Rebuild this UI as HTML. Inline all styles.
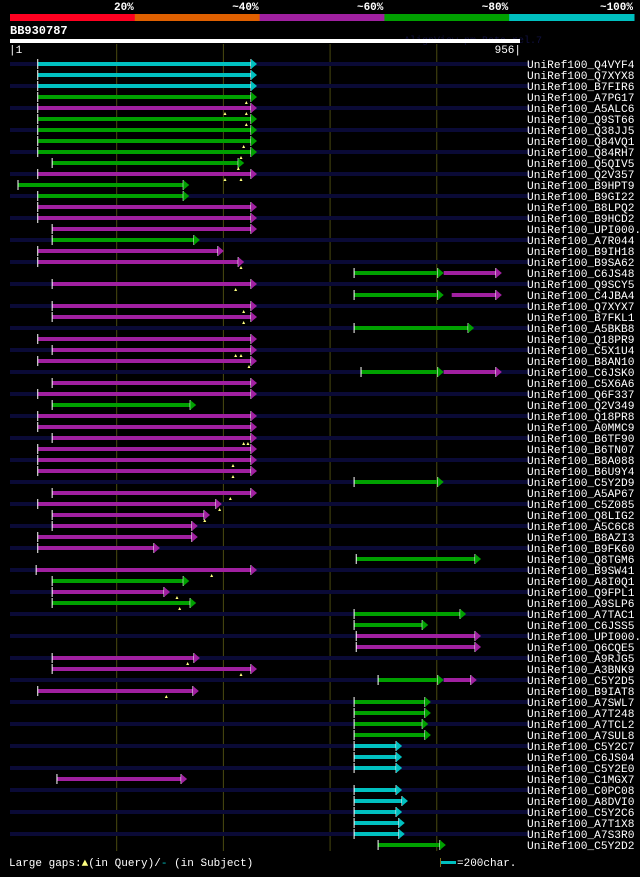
<!DOCTYPE html>
<html><head><meta charset="utf-8">
<style>
html,body{margin:0;padding:0;background:#000;}
body{width:640px;height:872px;overflow:hidden;}
svg text{font-family:"Liberation Mono","DejaVu Sans Mono",monospace;}
</style></head>
<body>
<svg id="chart" width="640" height="872" viewBox="0 0 640 872" xmlns="http://www.w3.org/2000/svg">
  <rect x="0" y="0" width="640" height="872" fill="#000"/>
  <g id="scalebar"></g>
  <text x="10" y="34" fill="#fff" font-size="12" font-weight="bold">BB930787</text>
  <text x="404" y="43" fill="#101040" font-size="10">AlignView.pm Beta rel.7</text>
  <rect x="10" y="39" width="510" height="4" fill="#fff"/>
  <text x="9" y="53" fill="#fff" font-size="11">|1</text>
  <text x="521" y="53" fill="#fff" font-size="11" text-anchor="end">956|</text>
  <g id="grid"></g>
  <g id="rows"></g>
  <text x="9" y="866" fill="#fff" font-size="11">Large gaps:<tspan fill="#ffff80">▲</tspan>(in Query)/<tspan fill="#00c0c0">-</tspan> (in Subject)</text>
  <rect x="441" y="861" width="15" height="3" fill="#00c0c0"/>
  <rect x="440" y="858" width="1" height="9" fill="#807020"/>
  <text x="457" y="866" fill="#fff" font-size="11">=200char.</text>
</svg>
<script>
const scaleLabels = ["20%","~40%","~60%","~80%","~100%"];
const scaleColors = ["#ff0020","#e06000","#a020a0","#00a000","#00c0c0"];
const gridTicks = [200,400,600,800];
const names = ["Q4VYF4","Q7XYX8","B7FIR6","A7PG17","A5ALC6","Q9ST66","Q38JJ5","Q84VQ1","Q84RH7","Q5QIV5","Q2V357","B9HPT9","B9GI22","B8LPQ2","B9HCD2","UPI000..","A7R044","B9IH18","B9SA62","C6JS48","Q9SCY5","C4JBA4","Q7XYX7","B7FKL1","A5BKB8","Q18PR9","C5X1U4","B8AN10","C6JSK0","C5X6A6","Q6F337","Q2V349","Q18PR8","A0MMC9","B6TF90","B6TN07","B8A088","B6U9Y4","C5Y2D9","A5AP67","C5Z085","Q8LIG2","A5C6C8","B8AZI3","B9FK60","Q8TGM6","B9SW41","A8I0Q1","Q9FPL1","A9SLP6","A7TAC1","C6JSS5","UPI000..","Q6CQE5","A9RJG5","A3BNK9","C5Y2D5","B9IAT8","A7SWL7","A7T248","A7TCL2","A7SUL8","C5Y2C7","C6JS04","C5Y2E0","C1MGX7","C0PC08","A8DVI0","C5Y2C6","A7T1X8","A7S3R0","C5Y2D2"];
const hitStart = [52,52,52,52,52,52,52,52,52,79,52,15,52,52,52,79,79,52,52,645,79,645,79,79,645,52,79,52,658,79,52,79,52,52,79,52,52,52,645,79,52,79,79,52,52,649,49,79,79,79,645,645,649,649,79,79,690,52,645,645,645,645,645,645,645,88,645,645,645,645,645,690];
const hitEnd = [463,463,463,463,463,463,463,463,463,439,463,336,336,463,463,463,356,401,439,813,463,813,463,463,870,463,463,463,813,463,463,349,463,463,463,463,463,463,813,463,397,375,352,352,281,883,463,336,300,349,855,784,883,883,356,463,813,354,789,789,784,789,735,735,735,332,735,746,735,740,740,817];
const hitClass = ["c","c","c","g","p","g","g","g","g","g","p","g","g","p","p","p","g","p","p","g","p","g","p","p","g","p","p","p","g","p","p","g","p","p","p","p","p","p","g","p","p","p","p","p","p","g","p","g","p","g","g","g","p","p","p","p","g","p","g","g","g","g","c","c","c","p","c","c","c","c","c","g"];
const extraRow = [19,21,28,56];
const extraStart = [813,828,813,813];
const extraEnd = [922,922,922,875];
const extraClass = ["p","p","p","p"];
const gapRow = [3,4,4,5,7,8,9,10,10,18,20,22,23,26,26,27,34,34,36,37,39,40,41,46,48,49,54,55,57];
const gapPos = [443,403,443,443,438,433,428,403,433,433,423,438,438,423,433,448,438,446,418,418,413,393,365,378,313,318,333,433,293];

const X0=10, X1=520, NMAX=956;
const xs = p => X0 + p/NMAX*(X1-X0);
const rowY = i => 64 + i*11;
const colorOf = {c:"#00c0c0", g:"#00a000", p:"#a020a0"};
const NS="http://www.w3.org/2000/svg";
function mk(tag, attrs, parent){const e=document.createElementNS(NS,tag);for(const k in attrs)e.setAttribute(k,attrs[k]);parent.appendChild(e);return e;}

const sb=document.getElementById('scalebar');
scaleColors.forEach((c,i)=>{
  const w=(634-10)/5;
  const r=mk('rect',{x:10+i*w,y:14,width:w+0.5,height:7,fill:c},sb);
  
  
  const t=mk('text',{x:10+(i+1)*w-1,y:10,fill:'#fff','font-size':'11','font-weight':'bold','text-anchor':'end'},sb);
  t.textContent=scaleLabels[i];
  
  
});

const grid=document.getElementById('grid');
gridTicks.forEach(v=>{
  const l=mk('line',{x1:xs(v),x2:xs(v),y1:44,y2:851,stroke:'#4a4a10','stroke-width':1},grid);
  
  
});

const rows=document.getElementById('rows');
function segment(g,s,e,cls,y,startTick){
  const col=colorOf[cls];
  const xe=xs(e)-6;
  mk('rect',{x:xs(s),y:y-2,width:Math.max(0,xe-xs(s)),height:4,fill:col},g);
  if(startTick) mk('rect',{x:xs(s)-0.5,y:y-5,width:1,height:10,fill:'#fff'},g);
  mk('rect',{x:xe-0.5,y:y-5,width:1,height:10,fill:'#fff'},g);
  mk('polygon',{points:`${xe},${y-5} ${xe+6},${y} ${xe},${y+5}`,fill:col},g);
}
names.forEach((n,i)=>{
  const y=rowY(i);
  const g=mk('g',{},rows);
  
  
  if(i%2===0) mk('rect',{x:10,y:y-2,width:520,height:4,fill:'#0a0a36'},g);
  segment(g,hitStart[i],hitEnd[i],hitClass[i],y,true);
  extraRow.forEach((r,k)=>{ if(r===i) segment(g,extraStart[k],extraEnd[k],extraClass[k],y,false); });
  gapRow.forEach((r,k)=>{ if(r===i){ const gx=xs(gapPos[k]);
    mk('polygon',{points:`${gx-1.5},${y+7} ${gx},${y+4} ${gx+1.5},${y+7}`,fill:'#ffff80'},g);} });
  const t=mk('text',{x:527,y:y+4,fill:'#fff','font-size':'11.2'},g);
  t.textContent='UniRef100_'+n;
  
  
});
</script>
</body></html>
